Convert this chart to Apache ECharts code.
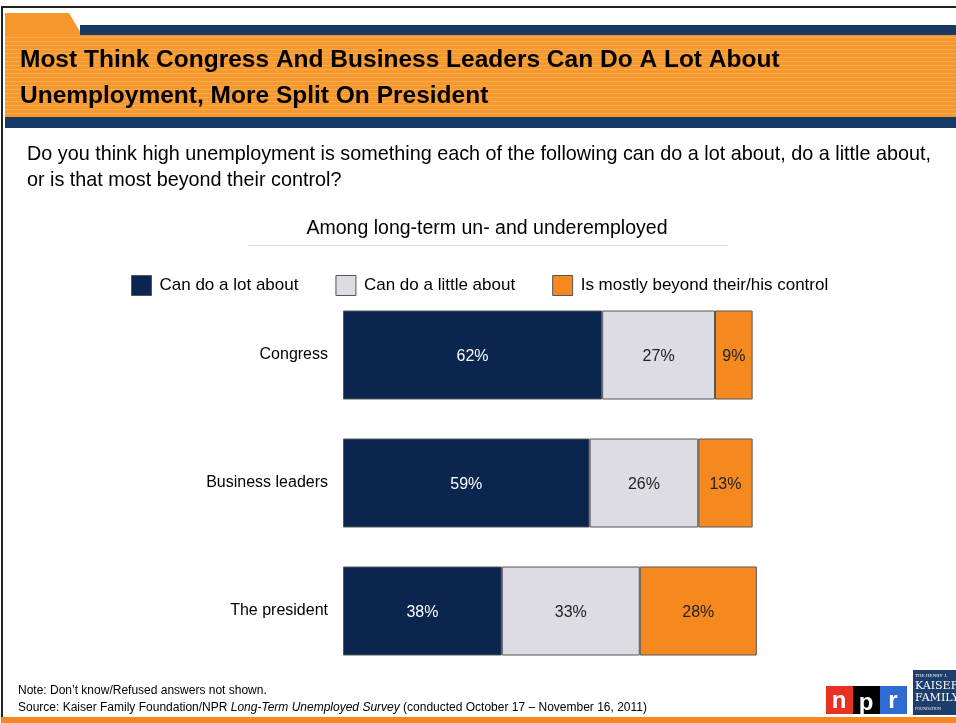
<!DOCTYPE html>
<html><head><meta charset="utf-8">
<script src="https://cdn.jsdelivr.net/npm/echarts@6/dist/echarts.min.js"></script>
<style>html,body{margin:0;padding:0;background:#fff}#c{width:956px;height:723px}</style>
</head><body><div id="c"></div>
<script>
const categories = ['Congress', 'Business leaders', 'The president'];
const seriesNames = ['Can do a lot about', 'Can do a little about', 'Is mostly beyond their/his control'];
const aLot = [62, 59, 38];
const aLittle = [27, 26, 33];
const beyond = [9, 13, 28];

const FONT = "'Liberation Sans',sans-serif";
const chart = echarts.init(document.getElementById('c'), null, {renderer: 'canvas'});
const colors = ['#0a254e', '#dcdce2', '#f5891f'];
const labelColors = ['#ffffff', '#222222', '#222222'];
const vals = [aLot, aLittle, beyond];

const stripes = [];
for (let y = 37; y < 116; y += 4) {
  stripes.push({type: 'rect', shape: {x: 5, y: y, width: 951, height: 1}, style: {fill: 'rgba(255,255,255,0.18)'}, silent: true});
}

chart.setOption({
  animation: false,
  textStyle: {fontFamily: FONT},
  grid: {left: 343, width: 418, top: 291, height: 384, containLabel: false},
  xAxis: {type: 'value', min: 0, max: 100, show: false},
  yAxis: {type: 'category', data: categories, inverse: true,
    axisLine: {show: false}, axisTick: {show: false},
    axisLabel: {color: '#000', fontSize: 16, margin: 15, fontFamily: FONT, lineHeight: 16, padding: [6, 0, 0, 0]}},
  legend: {left: 126, top: 270, itemWidth: 20, itemHeight: 20, itemGap: 37,
    icon: 'rect', textStyle: {fontSize: 17, color: '#000', fontFamily: FONT, padding: [0, 0, 0, 3]},
    data: seriesNames.map((n, i) => ({name: n, itemStyle: {borderColor: '#555', borderWidth: 1}}))},
  series: seriesNames.map((n, i) => ({
    name: n, type: 'bar', stack: 'all', barWidth: 89, data: vals[i],
    itemStyle: {color: colors[i], borderColor: '#555', borderWidth: 1},
    label: {show: true, position: 'inside', offset: [0, 2], formatter: '{c}%', color: labelColors[i], fontSize: 16, fontFamily: FONT}
  })),
  graphic: [
    {type: 'rect', shape: {x: 1, y: 6, width: 956, height: 2}, style: {fill: '#222'}, silent: true},
    {type: 'rect', shape: {x: 1, y: 6, width: 2, height: 717}, style: {fill: '#222'}, silent: true},
    {type: 'polygon', shape: {points: [[5, 13], [69, 13], [82, 35], [5, 35]]}, style: {fill: '#f7982c'}, silent: true},
    {type: 'rect', shape: {x: 80, y: 25, width: 876, height: 10}, style: {fill: '#163a63'}, silent: true},
    {type: 'rect', shape: {x: 5, y: 35, width: 951, height: 82}, style: {fill: '#f7982c'}, silent: true},
    ...stripes,
    {type: 'rect', shape: {x: 5, y: 117, width: 951, height: 11}, style: {fill: '#163a63'}, silent: true},
    {type: 'text', left: 20, top: 48, style: {text: 'Most Think Congress And Business Leaders Can Do A Lot About', font: "bold 24.5px " + FONT, fill: '#000'}},
    {type: 'text', left: 20, top: 84, style: {text: 'Unemployment, More Split On President', font: "bold 24.5px " + FONT, fill: '#000'}},
    {type: 'text', left: 27, top: 145, style: {text: 'Do you think high unemployment is something each of the following can do a lot about, do a little about,', font: "19.8px " + FONT, fill: '#000'}},
    {type: 'text', left: 27, top: 171, style: {text: 'or is that most beyond their control?', font: "19.8px " + FONT, fill: '#000'}},
    {type: 'text', x: 487, y: 229, style: {text: 'Among long-term un- and underemployed', font: "19.5px " + FONT, fill: '#000', textAlign: 'center', textVerticalAlign: 'middle'}},
    {type: 'rect', shape: {x: 248, y: 245, width: 480, height: 1}, style: {fill: '#e0e0e0'}, silent: true},
    {type: 'text', left: 18, top: 685, style: {text: 'Note: Don\u2019t know/Refused answers not shown.', font: "12px " + FONT, fill: '#000'}},
    {type: 'text', left: 18, top: 702, style: {rich: {n: {font: "12px " + FONT, fill: '#000'}, i: {font: "italic 12px " + FONT, fill: '#000'}},
      text: '{n|Source: Kaiser Family Foundation/NPR }{i|Long-Term Unemployed Survey}{n| (conducted October 17 \u2013 November 16, 2011)}'}},
    {type: 'rect', shape: {x: 1, y: 717, width: 956, height: 6}, style: {fill: '#f5891f'}, silent: true},
    {type: 'rect', shape: {x: 826, y: 686, width: 27, height: 28}, style: {fill: '#e8321f'}, silent: true},
    {type: 'rect', shape: {x: 853, y: 686, width: 27, height: 28}, style: {fill: '#000'}, silent: true},
    {type: 'rect', shape: {x: 880, y: 686, width: 27, height: 28}, style: {fill: '#2f6bd0'}, silent: true},
    {type: 'text', x: 839, y: 701, style: {text: 'n', font: "bold 24px " + FONT, fill: '#fff', textAlign: 'center', textVerticalAlign: 'middle'}},
    {type: 'text', x: 866, y: 703, style: {text: 'p', font: "bold 24px " + FONT, fill: '#fff', textAlign: 'center', textVerticalAlign: 'middle'}},
    {type: 'text', x: 893, y: 701, style: {text: 'r', font: "bold 24px " + FONT, fill: '#fff', textAlign: 'center', textVerticalAlign: 'middle'}},
    {type: 'rect', shape: {x: 913, y: 670, width: 43, height: 45}, style: {fill: '#1d3e6c'}, silent: true},
    {type: 'text', left: 915, top: 673, style: {text: 'THE HENRY J.', font: "5px serif", fill: '#fff'}},
    {type: 'text', left: 915, top: 681, style: {text: 'KAISER', font: "11px 'DejaVu Serif',serif", fill: '#fff'}},
    {type: 'text', left: 915, top: 693, style: {text: 'FAMILY', font: "11px 'DejaVu Serif',serif", fill: '#fff'}},
    {type: 'text', left: 915, top: 707, style: {text: 'FOUNDATION', font: "4px serif", fill: '#fff'}}
  ]
});
</script></body></html>
